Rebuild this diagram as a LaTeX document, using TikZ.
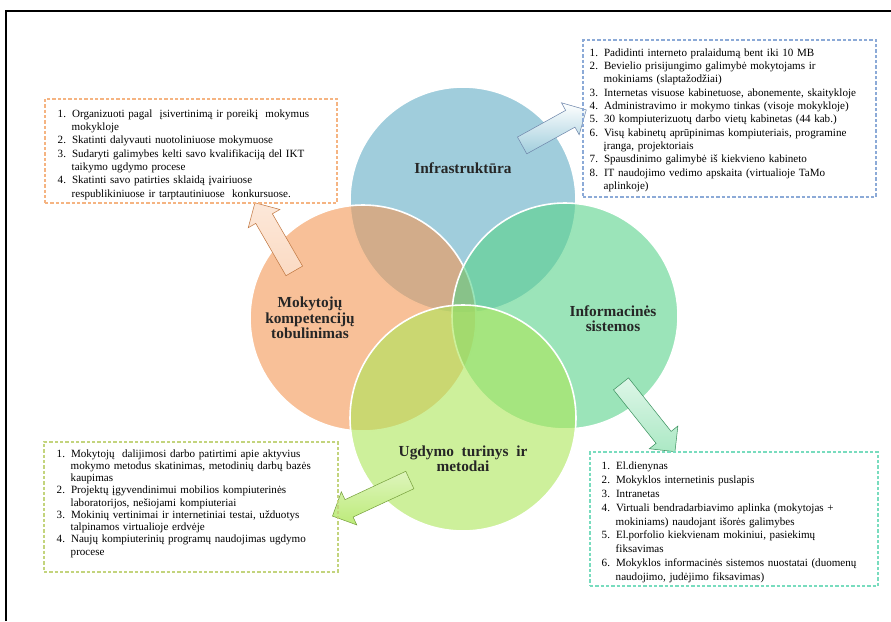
\documentclass[tikz,border=0pt]{standalone}
\usepackage{fontspec}
\setmainfont{Liberation Serif}
\usepackage{enumitem}
\usetikzlibrary{shapes.arrows}

\definecolor{infrablue}{RGB}{97,172,197}
\definecolor{mokorange}{RGB}{243,150,83}
\definecolor{infogreen}{RGB}{88,210,138}
\definecolor{ugdgreen}{RGB}{172,230,88}
\definecolor{infraedge}{RGB}{140,170,215}
\definecolor{mokedge}{RGB}{245,180,130}
\definecolor{ugdedge}{RGB}{195,212,125}
\definecolor{infoedge}{RGB}{120,220,190}

\setlist[enumerate]{label=\arabic*., leftmargin=10.5pt, labelwidth=6pt, labelsep=4.5pt, align=left, nosep}

\begin{document}
\begin{tikzpicture}[x=0.75pt,y=-0.75pt,
    venn/.style={circle, minimum size=169.5pt, inner sep=0pt, draw=white, line width=1.2pt, fill opacity=0.6, draw opacity=1},
    vennlabel/.style={font=\bfseries\fontsize{11.5}{11.5}\selectfont, align=center, text=black!85},
    listframe/.style={draw, dashed, dash pattern=on 2.5pt off 1.5pt, line width=0.8pt, inner sep=0pt},
    listtext/.style={font=\fontsize{8.3}{10}\selectfont, text width=214pt, inner sep=0pt, anchor=north west, align=left},
    blockarrow/.style={single arrow, inner sep=7pt, single arrow head extend=6.5pt, line width=0.4pt}]

  \useasboundingbox (0,0) rectangle (891,621);

  % frame
  \draw[line width=1.5pt] (6,621) -- (6,11) -- (891,11);

  % circles
  \node[venn, fill=infrablue] (infra) at (463,200) {};
  \node[venn, fill=mokorange] (mokyt) at (363,318) {};
  \node[venn, fill=infogreen] (info) at (565,316) {};
  \node[venn, fill=ugdgreen] (ugdym) at (463,418) {};

  \node[vennlabel] (infralbl) at (463,168) {Infrastruktūra};
  \node[vennlabel] (mokytlbl) at (310,318) {Mokytojų\\kompetencijų\\tobulinimas};
  \node[vennlabel] (infolbl) at (613,319) {Informacinės\\sistemos};
  \node[vennlabel] (ugdymlbl) at (463,459) {Ugdymo\ \ turinys\ \ ir\\metodai};

  % block arrows
  \node[blockarrow, minimum height=55pt, rotate=29, draw=infraedge!80!black, top color=white, bottom color=infrablue!60] (infraarr) at (550,130) {};
  \node[blockarrow, minimum height=59pt, rotate=120, draw=mokorange!80!black, top color=mokorange!22, bottom color=mokorange!35] (mokytarr) at (277,241) {};
  \node[blockarrow, minimum height=65pt, rotate=-51.5, draw=infogreen!70!black, top color=infogreen!20, bottom color=infogreen!50] (infoarr) at (645,414) {};
  \node[blockarrow, minimum height=64pt, rotate=205, draw=ugdgreen!70!black, top color=ugdgreen!40, bottom color=ugdgreen!80] (ugdymarr) at (375.5,496) {};

  % lists
  \node[listframe, draw=infraedge, minimum width=219.75pt, minimum height=117.75pt] (infrabox) at (729.5,118.5) {};
  \node[listtext] (infratext) at ([shift={(7,3)}]infrabox.north west) {%
    \begin{enumerate}
      \item Padidinti interneto pralaidumą bent iki 10 MB
      \item Bevielio prisijungimo galimybė mokytojams ir\newline mokiniams (slaptažodžiai)
      \item Internetas visuose kabinetuose, abonemente, skaitykloje
      \item Administravimo ir mokymo tinkas (visoje mokykloje)
      \item 30 kompiuterizuotų darbo vietų kabinetas (44 kab.)
      \item Visų kabinetų aprūpinimas kompiuteriais, programine\newline įranga, projektoriais
      \item Spausdinimo galimybė iš kiekvieno kabineto
      \item IT naudojimo vedimo apskaita (virtualioje TaMo\newline aplinkoje)
    \end{enumerate}};

  \node[listframe, draw=mokedge, minimum width=219pt, minimum height=78pt] (mokytbox) at (191,151) {};
  \node[listtext] (mokyttext) at ([shift={(13,5)}]mokytbox.north west) {%
    \begin{enumerate}
      \item Organizuoti pagal \ įsivertinimą ir poreikį \ mokymus\newline mokykloje
      \item Skatinti dalyvauti nuotoliniuose mokymuose
      \item Sudaryti galimybes kelti savo kvalifikaciją del IKT\newline taikymo ugdymo procese
      \item Skatinti savo patirties sklaidą įvairiuose\newline respublikiniuose ir tarptautiniuose \ konkursuose.
    \end{enumerate}};

  \node[listframe, draw=ugdedge, minimum width=220.5pt, minimum height=97.5pt] (ugdymbox) at (191,507) {};
  \node[listtext, font=\fontsize{8.3}{9.2}\selectfont] (ugdymtext) at ([shift={(13,3)}]ugdymbox.north west) {%
    \begin{enumerate}
      \item Mokytojų \ dalijimosi darbo patirtimi apie aktyvius\newline mokymo metodus skatinimas, metodinių darbų bazės\newline kaupimas
      \item Projektų įgyvendinimui mobilios kompiuterinės\newline laboratorijos, nešiojami kompiuteriai
      \item Mokinių vertinimai ir internetiniai testai, užduotys\newline talpinamos virtualioje erdvėje
      \item Naujų kompiuterinių programų naudojimas ugdymo\newline procese
    \end{enumerate}};

  \node[listframe, draw=infoedge, minimum width=216pt, minimum height=100.5pt] (infobox) at (734,519) {};
  \node[listtext, font=\fontsize{8.3}{10.4}\selectfont] (infotext) at ([shift={(12,4)}]infobox.north west) {%
    \begin{enumerate}
      \item El.dienynas
      \item Mokyklos internetinis puslapis
      \item Intranetas
      \item Virtuali bendradarbiavimo aplinka (mokytojas +\newline mokiniams) naudojant išorės galimybes
      \item El.porfolio kiekvienam mokiniui, pasiekimų\newline fiksavimas
      \item Mokyklos informacinės sistemos nuostatai (duomenų\newline naudojimo, judėjimo fiksavimas)
    \end{enumerate}};

\end{tikzpicture}
\end{document}
